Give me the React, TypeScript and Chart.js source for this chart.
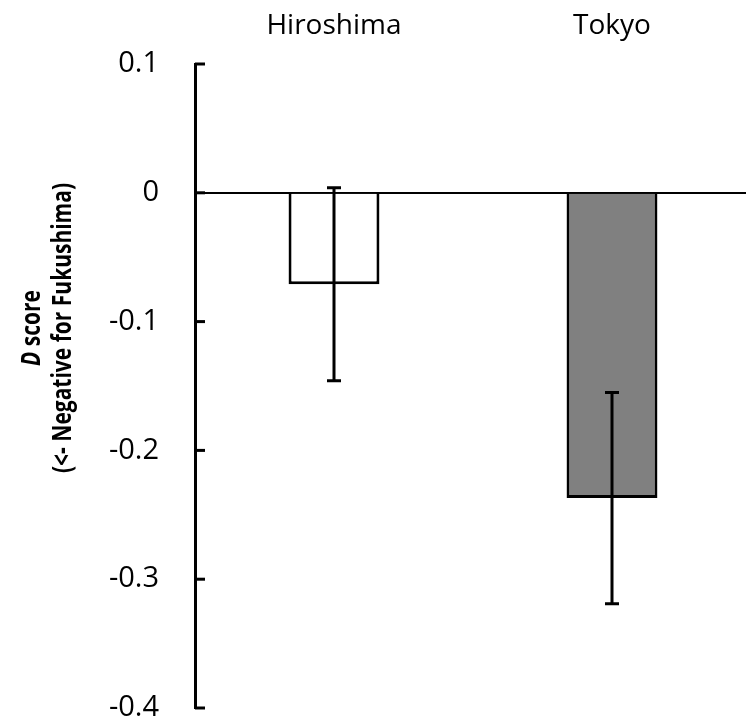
import React, { useEffect, useRef } from "react";
import { Chart, registerables } from "chart.js";

Chart.register(...registerables);

const categories = ["Hiroshima", "Tokyo"];
const means = [-0.071, -0.237];
const errors = [0.075, 0.082];
const barColors = ["#ffffff", "#808080"];
const yMin = -0.4;
const yMax = 0.1;
const yStep = 0.1;
const titleLine1Italic = "D";
const titleLine1Rest = " score";
const titleLine2 = "(<- Negative for Fukushima)";

const FONT = "'Open Sans', 'DejaVu Sans', sans-serif";

const errorBarPlugin = {
  id: "errorBars",
  afterDatasetsDraw(chart: any) {
    const ctx = chart.ctx;
    const xs = chart.scales.x;
    const ys = chart.scales.y;
    ctx.save();
    ctx.strokeStyle = "#000";
    ctx.lineWidth = 3;
    means.forEach((m, i) => {
      const x = xs.getPixelForValue(i);
      const yt = ys.getPixelForValue(m + errors[i]);
      const yb = ys.getPixelForValue(m - errors[i]);
      ctx.beginPath();
      ctx.moveTo(x, yt);
      ctx.lineTo(x, yb);
      ctx.moveTo(x - 7, yt);
      ctx.lineTo(x + 7, yt);
      ctx.moveTo(x - 7, yb);
      ctx.lineTo(x + 7, yb);
      ctx.stroke();
    });
    ctx.restore();
  },
};

const decorPlugin = {
  id: "decor",
  afterDraw(chart: any) {
    const ctx = chart.ctx;
    const xs = chart.scales.x;
    const ys = chart.scales.y;
    const left = chart.chartArea.left;
    ctx.save();
    // inward tick marks
    ctx.strokeStyle = "#000";
    ctx.lineWidth = 3;
    ys.ticks.forEach((t: any) => {
      const y = ys.getPixelForValue(t.value);
      ctx.beginPath();
      ctx.moveTo(left, y);
      ctx.lineTo(left + 10, y);
      ctx.stroke();
    });
    // category labels on top
    ctx.fillStyle = "#000";
    ctx.font = `28px ${FONT}`;
    ctx.textAlign = "center";
    ctx.textBaseline = "middle";
    categories.forEach((c, i) => {
      ctx.fillText(c, xs.getPixelForValue(i), 26);
    });
    // y axis title (two lines, rotated)
    const cy = 328;
    const size = 21;
    ctx.save();
    ctx.translate(33, cy);
    ctx.rotate(-Math.PI / 2);
    ctx.scale(1, 1.25);
    ctx.textBaseline = "middle";
    ctx.textAlign = "left";
    ctx.font = `italic bold ${size}px ${FONT}`;
    const w1 = ctx.measureText(titleLine1Italic).width;
    ctx.font = `bold ${size}px ${FONT}`;
    const w2 = ctx.measureText(titleLine1Rest).width;
    const start = -(w1 + w2) / 2;
    ctx.font = `italic bold ${size}px ${FONT}`;
    ctx.fillText(titleLine1Italic, start, 0);
    ctx.font = `bold ${size}px ${FONT}`;
    ctx.fillText(titleLine1Rest, start + w1, 0);
    ctx.restore();
    ctx.save();
    ctx.translate(64, cy);
    ctx.rotate(-Math.PI / 2);
    ctx.scale(1, 1.25);
    ctx.textBaseline = "middle";
    ctx.textAlign = "center";
    ctx.font = `bold ${size}px ${FONT}`;
    ctx.fillText(titleLine2, 0, 0);
    ctx.restore();
    ctx.restore();
  },
};

export default function App() {
  const ref = useRef<HTMLCanvasElement | null>(null);
  useEffect(() => {
    document.body.style.margin = "0";
    if (!ref.current) return;
    const chart = new Chart(ref.current, {
      type: "bar",
      data: {
        labels: categories,
        datasets: [
          {
            data: means,
            backgroundColor: barColors,
            borderColor: "#000",
            borderWidth: 3,
            barPercentage: 0.327,
            categoryPercentage: 1,
          },
        ],
      },
      options: {
        animation: false,
        responsive: false,
        maintainAspectRatio: false,
        devicePixelRatio: 1,
        layout: { padding: { left: 0, right: 0, top: 64, bottom: 14 } },
        plugins: {
          legend: { display: false },
          tooltip: { enabled: false },
          title: { display: false },
        },
        scales: {
          x: { display: false },
          y: {
            min: yMin,
            max: yMax,
            afterFit: (s: any) => {
              s.width = 195;
              s.paddingTop = 0;
              s.paddingBottom = 0;
            },
            ticks: {
              stepSize: yStep,
              padding: 36,
              color: "#000",
              font: { family: FONT, size: 29 },
              callback: (v: any) => String(Math.round(Number(v) * 10) / 10),
            },
            grid: {
              drawTicks: false,
              lineWidth: 2,
              color: (c: any) =>
                c.tick && Math.abs(c.tick.value) < 1e-9 ? "#000" : "rgba(0,0,0,0)",
            },
            border: { display: true, color: "#000", width: 3 },
          },
        },
      },
      plugins: [errorBarPlugin, decorPlugin],
    });
    return () => chart.destroy();
  }, []);
  return (
    <div
      style={{
        position: "fixed",
        left: 0,
        top: 0,
        width: 746,
        height: 722,
        overflow: "hidden",
        background: "#fff",
      }}
    >
      <canvas ref={ref} width={751} height={722} style={{ display: "block", width: 751, height: 722 }} />
    </div>
  );
}
